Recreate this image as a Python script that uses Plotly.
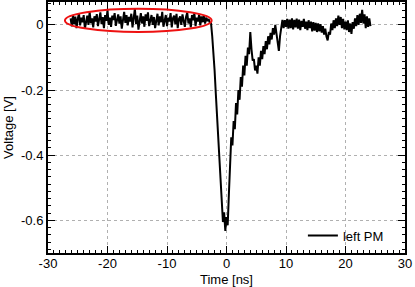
import numpy as np
import plotly.graph_objects as go

# ---- data ----
t_start = -26.2      # ns
t_step = 0.2         # ns

v_baseline = [
    0.020, -0.005, 0.030, 0.002, 0.025, -0.010, 0.018, 0.035, -0.002, 0.022,
    0.008, 0.030, -0.012, 0.015, 0.028, 0.000, 0.040, 0.005, 0.020, -0.008,
    0.026, 0.010, 0.033, -0.004, 0.018, 0.038, 0.002, 0.024, -0.010, 0.030,
    0.012, 0.045, 0.000, 0.022, -0.006, 0.028, 0.015, 0.036, -0.003, 0.020,
    0.032, 0.004, 0.026, -0.012, 0.018, 0.040, 0.006, 0.030, -0.002, 0.024,
    0.010, 0.034, -0.008, 0.020, 0.050, 0.002, 0.028, -0.015, 0.022, 0.036,
    0.004, 0.026, -0.006, 0.032, 0.012, 0.038, -0.004, 0.020, 0.030, 0.000,
    0.024, -0.010, 0.018, 0.034, -0.002, 0.026, 0.008, 0.040, -0.006, 0.016,
    0.030, -0.004, 0.022, 0.010, 0.036, -0.008, 0.020, 0.028, 0.002, 0.034,
    -0.010, 0.018, 0.026, 0.000, 0.032, 0.012, -0.006, 0.024, 0.038, 0.004,
    0.020, -0.008, 0.030, 0.014, 0.036, -0.004, 0.022, 0.010, 0.032, -0.002,
    0.026, 0.008, 0.030, 0.004, 0.022, 0.012, 0.018, 0.006,
]

v_pulse = [
    0.005, -0.035, -0.080, -0.140, -0.210, -0.280, -0.360, -0.430, -0.500, -0.555,
    -0.605, -0.575, -0.632, -0.590, -0.615, -0.520, -0.440, -0.345, -0.370, -0.295,
    -0.320, -0.240, -0.275, -0.200, -0.230, -0.160, -0.190, -0.125, -0.155, -0.095,
    -0.125, -0.070, -0.090, -0.022, -0.075, -0.110, -0.105, -0.140, -0.125, -0.150,
    -0.100, -0.125, -0.080, -0.105, -0.065, -0.090, -0.050, -0.075, -0.035, -0.060,
    -0.025, -0.045, -0.010, -0.030, 0.000, -0.025, -0.050, -0.080, -0.035, -0.015,
    0.015, -0.010, 0.014, -0.006,
]

v_tail = [
    0.018, -0.012, 0.016, -0.010, 0.020, -0.014, 0.015, -0.008, 0.019, -0.012,
    0.016, -0.016, 0.012, -0.006, 0.018, -0.012, 0.010, -0.016, 0.014, -0.010,
    0.010, -0.020, 0.008, -0.018, 0.006, -0.022, 0.004, -0.020, 0.002, -0.024,
    -0.004, -0.030, -0.012, -0.036, -0.048, -0.022, -0.030, 0.004, -0.016, 0.014,
    -0.010, 0.020, -0.004, 0.028, 0.000, 0.024, -0.010, 0.018, -0.014, 0.010,
    -0.016, 0.014, -0.022, 0.004, -0.028, 0.008, -0.012, 0.020, -0.004, 0.030,
    0.000, 0.034, 0.006, 0.046, 0.004, 0.032, -0.010, 0.026, -0.006, 0.020,
    -0.004,
]

voltage = v_baseline + v_pulse + v_tail
time = [round(t_start + t_step * i, 2) for i in range(len(voltage))]

series_name = "left PM"
x_tickvals = [-30, -20, -10, 0, 10, 20, 30]
x_ticktext = ["-30", "-20", "-10", "0", "10", "20", "30"]
y_tickvals = [0, -0.2, -0.4, -0.6]
y_ticktext = ["0", "-0.2", "-0.4", "-0.6"]

# highlighted baseline region (ellipse)
ell_x = (-27.15, -2.5)
ell_y = (-0.022, 0.049)

font = "Liberation Sans, Arial, Helvetica, sans-serif"

fig = go.Figure()
fig.add_trace(go.Scatter(
    x=time, y=voltage, mode="lines", name=series_name,
    line=dict(color="black", width=2),
))

fig.add_shape(type="circle", xref="x", yref="y",
              x0=ell_x[0], x1=ell_x[1], y0=ell_y[0], y1=ell_y[1],
              line=dict(color="#ee1111", width=2))

axis_common = dict(
    showline=True, linecolor="black", linewidth=2, mirror="ticks",
    ticks="inside", ticklen=7, tickwidth=1, tickcolor="black",
    showgrid=True, gridcolor="#b0b0b0", griddash="dot", gridwidth=1,
    zeroline=False, automargin=False,
    tickfont=dict(family=font, size=13, color="black"),
)

fig.update_xaxes(
    range=[-30, 30], tickvals=x_tickvals, ticktext=x_ticktext,
    ticklabelstandoff=-3,
    minor=dict(dtick=1, tick0=0, ticklen=3, ticks="inside", tickcolor="black", showgrid=False),
    title=dict(text="Time [ns]", font=dict(family=font, size=13, color="black"), standoff=9),
    **axis_common,
)
fig.update_yaxes(
    range=[-0.7, 0.07], tickvals=y_tickvals, ticktext=y_ticktext,
    minor=dict(dtick=0.2 / 9, tick0=0, ticklen=3, ticks="inside", tickcolor="black", showgrid=False),
    title=dict(text="Voltage [V]", font=dict(family=font, size=13, color="black"), standoff=4),
    **axis_common,
)

fig.update_layout(
    width=415, height=287,
    margin=dict(l=48, r=10, t=2, b=34),
    paper_bgcolor="white", plot_bgcolor="white",
    font=dict(family=font, size=13, color="black"),
    showlegend=True,
    legend=dict(x=0.714, y=0.01, xanchor="left", yanchor="bottom",
                bgcolor="rgba(0,0,0,0)", borderwidth=0,
                font=dict(family=font, size=13, color="black"),
                itemwidth=30),
)

fig.write_html("out.html",
               config={"displayModeBar": False},
               post_script="document.body.style.margin='0';document.body.style.overflow='hidden';")
